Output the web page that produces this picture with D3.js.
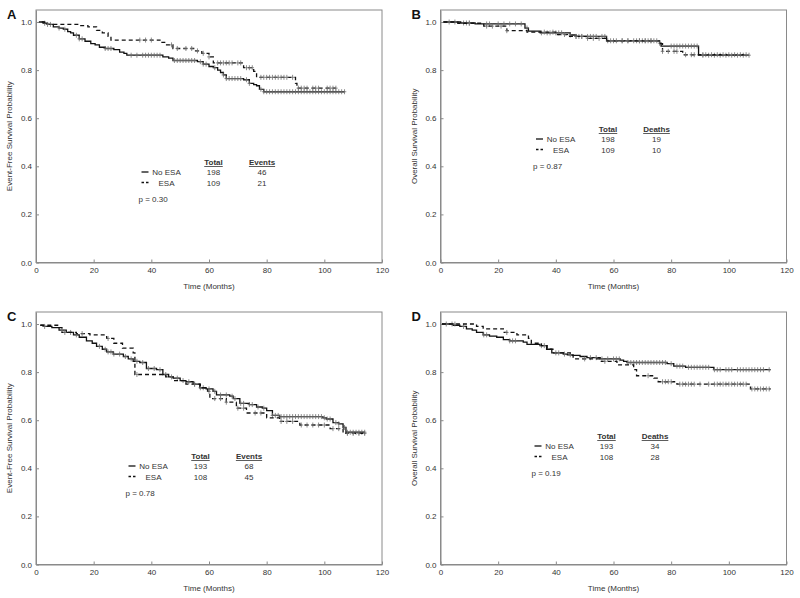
<!DOCTYPE html>
<html><head><meta charset="utf-8">
<script src="https://cdn.jsdelivr.net/npm/d3@7"></script>
<style>
html,body{margin:0;padding:0;background:#fff;}
svg{display:block;font-family:"Liberation Sans",Arial,sans-serif;}
</style></head>
<body><svg id="c" width="800" height="598"></svg>
<script>
// ---------- DATA ----------
const xTicks = [0, 20, 40, 60, 80, 100, 120];
const yTicks = [0.0, 0.2, 0.4, 0.6, 0.8, 1.0];
const groupNames = ["No ESA", "ESA"];

// Panel A: event-free survival (cohort 1)
const aNoT = [1, 2.5, 4, 6, 8, 9.5, 11, 12, 13, 15, 17, 19, 20.5, 22, 24, 27, 29, 30.5, 31.5, 44, 46, 47.5, 56, 58, 60, 61.5, 63, 64, 65, 66, 72, 74, 75.5, 76.5, 77.5, 79, 107];
const aNoS = [1.0, 0.995, 0.99, 0.98, 0.975, 0.97, 0.96, 0.955, 0.945, 0.93, 0.92, 0.91, 0.905, 0.895, 0.89, 0.885, 0.875, 0.87, 0.862, 0.855, 0.85, 0.84, 0.835, 0.825, 0.815, 0.81, 0.80, 0.79, 0.78, 0.765, 0.76, 0.745, 0.74, 0.735, 0.72, 0.71, 0.71];
const aEsaT = [2, 3, 15, 18, 21, 23, 25, 26, 43, 45, 47.5, 55, 57.5, 60, 61.5, 72, 75.5, 76.5, 90, 90.5, 104];
const aEsaS = [1.0, 0.99, 0.985, 0.98, 0.965, 0.955, 0.94, 0.925, 0.915, 0.905, 0.89, 0.88, 0.87, 0.855, 0.83, 0.81, 0.795, 0.77, 0.745, 0.725, 0.725];
const aNoC = [3, 5, 8, 10, 14, 15, 16, 24, 25, 26, 33, 35, 37, 38, 39, 40, 41, 42, 43, 48, 49, 50, 51, 52, 53, 54, 55, 57, 58, 59, 62, 65, 66, 67, 68, 69, 70, 71, 73, 74, 78, 79, 80, 81, 82, 83, 84, 85, 86, 87, 88, 89, 90, 91, 92, 93, 94, 95, 96, 97, 98, 99, 100, 101, 102, 103, 104, 105, 106, 107];
const aEsaC = [4, 36, 38, 40, 47, 49, 52, 54, 56, 58, 60, 63, 64, 65, 66, 67, 68, 70, 71, 73, 74, 75, 78, 79, 80, 81, 82, 83, 84, 85, 86, 87, 89, 91, 92, 93, 94, 96, 97, 98, 101, 102, 103, 104];
const aTotals = [198, 109], aEvents = [46, 21], aP = "p = 0.30";

// Panel B: overall survival (cohort 1)
const bNoT = [1, 7, 12, 29.3, 30.5, 34.6, 45, 47, 57.6, 76, 76.5, 89.5, 107];
const bNoS = [1.0, 0.996, 0.992, 0.975, 0.962, 0.955, 0.946, 0.94, 0.922, 0.912, 0.9, 0.862, 0.862];
const bEsaT = [1, 6, 15, 23, 30, 40, 44, 50.5, 57.5, 76, 77, 84, 106];
const bEsaS = [1.0, 0.995, 0.983, 0.964, 0.958, 0.948, 0.94, 0.932, 0.922, 0.91, 0.878, 0.864, 0.864];
const bNoC = [3, 5, 8, 9, 10, 16, 17, 20, 22, 24, 26, 28, 30, 35, 37, 38, 40, 41, 42, 45, 47, 48, 49, 51, 52, 53, 54, 56, 57, 58, 60, 63, 65, 67, 68, 69, 70, 71, 72, 73, 74, 76, 80, 81, 82, 83, 84, 85, 86, 87, 88, 89, 91, 93, 95, 97, 99, 101, 103, 105, 107];
const bEsaC = [10, 16, 18, 21, 23, 36, 39, 43, 47, 49, 51, 53, 55, 59, 61, 63, 65, 69, 71, 73, 75, 77, 79, 81, 82, 85, 87, 88, 91, 92, 94, 96, 98, 100, 102, 104, 106];
const bTotals = [198, 109], bDeaths = [19, 10], bP = "p = 0.87";

// Panel C: event-free survival (cohort 2)
const cNoT = [1.5, 2.5, 5.5, 8, 10.5, 13, 15, 17.5, 19.5, 21, 23, 24.5, 26.8, 30.3, 32, 33.7, 36, 38.3, 41.8, 44, 46, 47.6, 50, 52, 54.5, 56.8, 59, 61.4, 62.6, 67.2, 68.4, 70.7, 74, 76.5, 78.5, 80, 82, 84.5, 99.5, 100.7, 103, 105, 106.5, 107.5, 114];
const cNoS = [0.995, 0.99, 0.985, 0.975, 0.965, 0.955, 0.945, 0.93, 0.92, 0.907, 0.895, 0.884, 0.875, 0.865, 0.855, 0.845, 0.84, 0.815, 0.81, 0.79, 0.78, 0.775, 0.765, 0.76, 0.75, 0.735, 0.73, 0.72, 0.705, 0.70, 0.69, 0.67, 0.665, 0.655, 0.65, 0.64, 0.62, 0.615, 0.61, 0.605, 0.59, 0.585, 0.57, 0.55, 0.55];
const cEsaT = [1.5, 7.5, 9, 14, 18.7, 24.5, 27, 30, 33.7, 34.3, 45, 47.6, 52, 57, 59.5, 60.3, 66, 69.5, 73, 80, 84.5, 91.5, 102, 106.5, 114];
const cEsaS = [0.995, 0.985, 0.965, 0.96, 0.955, 0.94, 0.92, 0.9, 0.88, 0.79, 0.78, 0.765, 0.75, 0.735, 0.72, 0.69, 0.675, 0.65, 0.63, 0.61, 0.595, 0.58, 0.565, 0.545, 0.545];
const cNoC = [3, 9, 12, 14, 22, 24, 25, 26, 27, 29, 31, 33, 35, 37, 39, 41, 43, 45, 49, 51, 53, 55, 57, 58, 60, 62, 64, 66, 68, 69, 71, 72, 74, 75, 77, 79, 82, 83, 84, 85, 86, 87, 88, 89, 90, 91, 92, 93, 94, 95, 96, 97, 98, 99, 100, 101, 102, 104, 105, 107, 108, 109, 110, 111, 112, 113, 114];
const cEsaC = [10, 16, 25, 35, 47, 55, 60, 62, 64, 66, 70, 72, 76, 78, 85, 87, 89, 92, 94, 96, 98, 100, 103, 105, 108, 110, 112, 114];
const cTotals = [193, 108], cEvents = [68, 45], cP = "p = 0.78";

// Panel D: overall survival (cohort 2)
const dNoT = [0.5, 4.4, 6.7, 9, 11, 12.5, 14.8, 17, 19.5, 21.8, 24, 28.7, 30, 34.5, 36.8, 38.6, 42.6, 44, 46, 48.4, 50.8, 55.4, 62.3, 63.5, 64.7, 78.6, 80.9, 85, 94.8, 114.5];
const dNoS = [1.0, 0.995, 0.99, 0.98, 0.975, 0.965, 0.955, 0.95, 0.945, 0.935, 0.93, 0.925, 0.915, 0.91, 0.895, 0.88, 0.875, 0.872, 0.87, 0.865, 0.86, 0.855, 0.85, 0.845, 0.84, 0.835, 0.825, 0.82, 0.81, 0.81];
const dEsaT = [0.5, 12.5, 14.8, 21.8, 26.5, 30.5, 31.5, 35, 37, 39, 45, 46, 55.4, 61.2, 67, 68, 74, 75.5, 82, 107.5, 114.5];
const dEsaS = [1.0, 0.99, 0.98, 0.965, 0.955, 0.94, 0.92, 0.91, 0.895, 0.88, 0.87, 0.855, 0.845, 0.83, 0.81, 0.785, 0.775, 0.76, 0.75, 0.73, 0.73];
const dNoC = [2, 4, 8, 15, 16, 24, 25, 26, 35, 36, 41, 43, 45, 52, 54, 56, 58, 60, 61, 62, 65, 66, 67, 68, 69, 70, 71, 72, 73, 74, 75, 76, 77, 78, 80, 82, 83, 84, 86, 87, 88, 89, 90, 91, 92, 93, 95, 96, 97, 99, 100, 101, 103, 104, 105, 106, 107, 108, 109, 110, 111, 112, 114];
const dEsaC = [5, 23, 40, 50, 57, 72, 77, 78, 79, 80, 83, 84, 85, 86, 87, 88, 90, 93, 95, 96, 97, 98, 99, 100, 101, 102, 103, 104, 105, 106, 108, 109, 110, 111, 112, 113, 114];
const dTotals = [193, 108], dDeaths = [34, 28], dP = "p = 0.19";

// ---------- LAYOUT ----------
const panels = [
  {label:"A", x0:36,    y0:10,  ylab:"Event-Free Survival Probability", col:"Events",
   no:[aNoT,aNoS,aNoC], esa:[aEsaT,aEsaS,aEsaC], totals:aTotals, counts:aEvents, p:aP, lx:141.5, ly:172},
  {label:"B", x0:440.5, y0:10,  ylab:"Overall Survival Probability", col:"Deaths",
   no:[bNoT,bNoS,bNoC], esa:[bEsaT,bEsaS,bEsaC], totals:bTotals, counts:bDeaths, p:bP, lx:536, ly:139},
  {label:"C", x0:36,    y0:312, ylab:"Event-Free Survival Probability", col:"Events",
   no:[cNoT,cNoS,cNoC], esa:[cEsaT,cEsaS,cEsaC], totals:cTotals, counts:cEvents, p:cP, lx:128.5, ly:466},
  {label:"D", x0:440.5, y0:312, ylab:"Overall Survival Probability", col:"Deaths",
   no:[dNoT,dNoS,dNoC], esa:[dEsaT,dEsaS,dEsaC], totals:dTotals, counts:dDeaths, p:dP, lx:534.5, ly:446}
];
const W = 346, H = 252.5;
const svg = d3.select("#c");
const frameCol = "#8a8a8a", textCol = "#333";

function stepAt(T, S, t) {
  let v = S[0];
  for (let i = 0; i < T.length; i++) { if (T[i] <= t) v = S[i]; else break; }
  return v;
}

panels.forEach(p => {
  const g = svg.append("g").attr("transform", `translate(${p.x0},${p.y0})`);
  const x = d3.scaleLinear().domain([0, 120]).range([0, W]);
  const y = d3.scaleLinear().domain([0, 1.05]).range([H, 0]);

  g.append("rect").attr("width", W).attr("height", H)
    .attr("fill", "none").attr("stroke", frameCol).attr("stroke-width", 1);

  const xa = g.append("g").attr("transform", `translate(0,${H})`)
    .call(d3.axisBottom(x).tickValues(xTicks).tickSizeInner(-3).tickSizeOuter(0).tickPadding(5).tickFormat(d3.format("d")));
  const ya = g.append("g")
    .call(d3.axisLeft(y).tickValues(yTicks).tickSizeInner(-3).tickSizeOuter(0).tickPadding(4).tickFormat(d3.format(".1f")));
  [xa, ya].forEach(a => {
    a.select(".domain").attr("stroke", frameCol);
    a.selectAll(".tick line").attr("stroke", frameCol);
    a.selectAll("text").attr("fill", textCol).attr("font-size", 8).attr("font-family", "Liberation Sans, Arial, sans-serif");
  });

  g.append("text").attr("x", W / 2).attr("y", H + 26).attr("text-anchor", "middle")
    .attr("font-size", 8).attr("fill", textCol).text("Time (Months)");
  g.append("text").attr("transform", `translate(-24,${H / 2}) rotate(-90)`)
    .attr("text-anchor", "middle").attr("font-size", 8).attr("fill", textCol).text(p.ylab);

  svg.append("text").attr("x", p.x0 - 29).attr("y", p.y0 + 8.5)
    .attr("font-size", 13).attr("font-weight", "bold").attr("fill", "#111").text(p.label);

  const line = d3.line().x(d => x(d[0])).y(d => y(d[1])).curve(d3.curveStepAfter);
  [[p.no, null], [p.esa, "4,3"]].forEach(([s, dash]) => {
    const [T, S, C] = s;
    const pts = T.map((t, i) => [t, S[i]]);
    g.append("path").datum(pts).attr("d", line).attr("fill", "none")
      .attr("stroke", "#111").attr("stroke-width", 1.3)
      .attr("stroke-dasharray", dash);
    const cg = g.append("g").attr("stroke", "#6e6e6e").attr("stroke-width", 0.8);
    C.forEach(t => {
      const cx = x(t), cy = y(stepAt(T, S, t));
      cg.append("line").attr("x1", cx).attr("x2", cx).attr("y1", cy - 2.5).attr("y2", cy + 2.5);
      cg.append("line").attr("x1", cx - 1.8).attr("x2", cx + 1.8).attr("y1", cy).attr("y2", cy);
    });
  });

  const L = svg.append("g").attr("font-size", 8).attr("fill", textCol);
  const hdrY = p.ly - 10;
  [["Total", 72], [p.col, 120.5]].forEach(([t, dx]) => {
    const tx = L.append("text").attr("x", p.lx + dx).attr("y", hdrY + 3).attr("text-anchor", "middle")
      .attr("font-weight", "bold").text(t);
    const w = tx.node().getComputedTextLength();
    L.append("line").attr("x1", p.lx + dx - w / 2).attr("x2", p.lx + dx + w / 2)
      .attr("y1", hdrY + 4.5).attr("y2", hdrY + 4.5).attr("stroke", textCol).attr("stroke-width", 0.8);
  });
  groupNames.forEach((nm, i) => {
    const ry = p.ly + i * 10.5;
    L.append("line").attr("x1", p.lx).attr("x2", p.lx + 7).attr("y1", ry).attr("y2", ry)
      .attr("stroke", "#111").attr("stroke-width", 1.3).attr("stroke-dasharray", i ? "2.5,2" : null);
    L.append("text").attr("x", p.lx + 25).attr("y", ry + 3).attr("text-anchor", "middle").text(nm);
    L.append("text").attr("x", p.lx + 72).attr("y", ry + 3).attr("text-anchor", "middle").text(p.totals[i]);
    L.append("text").attr("x", p.lx + 120.5).attr("y", ry + 3).attr("text-anchor", "middle").text(p.counts[i]);
  });
  L.append("text").attr("x", p.lx - 3).attr("y", p.ly + 30).text(p.p);
});
</script></body></html>
